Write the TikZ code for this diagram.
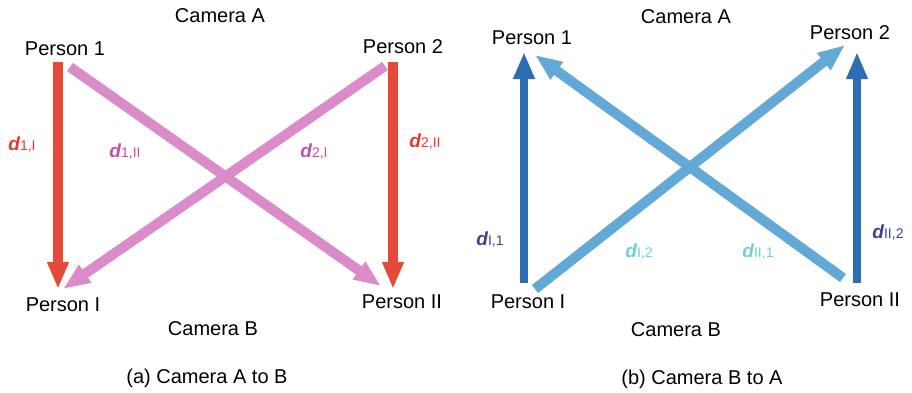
\documentclass[tikz,border=0pt]{standalone}
\usepackage{fontspec}
\setmainfont{Liberation Sans}
\usetikzlibrary{arrows.meta}
\definecolor{redarrow}{HTML}{E5493A}
\definecolor{pinkarrow}{HTML}{DA8BC9}
\definecolor{redlabel}{HTML}{E63A2E}
\definecolor{maglabel}{HTML}{C04FB0}
\definecolor{darkarrow}{HTML}{2E6DB3}
\definecolor{lightarrow}{HTML}{62A9D8}
\definecolor{bluelabel}{HTML}{3D3F9E}
\definecolor{cyanlabel}{HTML}{6ED3D0}
\newcommand\dsub[1]{{\fontsize{19}{19}\selectfont\bfseries\itshape d}{\fontsize{14}{14}\selectfont #1}}
\tikzset{
  txt/.style={inner sep=0pt, font=\fontsize{20}{20}\selectfont},
  lab/.style={inner sep=0pt},
  bigtip/.style={-{Triangle[length=27pt,width=20pt]}},
  redline/.style={draw=redarrow, line width=10pt, bigtip},
  pinkline/.style={draw=pinkarrow, line width=10pt, bigtip},
  darkline/.style={draw=darkarrow, line width=8pt, bigtip},
  lightline/.style={draw=lightarrow, line width=10pt, bigtip}
}
\begin{document}
\begin{tikzpicture}[x=1pt,y=-1pt]
\useasboundingbox[fill=white] (0,0) rectangle (912,392);

% ---- (a) Camera A to B ----
\node[txt] (camA1) at (220,16) {Camera A};
\node[txt] (p1a) at (65,49) {Person 1};
\node[txt] (p2a) at (403,47) {Person 2};
\node[txt] (pIa) at (63,305) {Person I};
\node[txt] (pIIa) at (402,302) {Person II};
\node[txt] (camB1) at (213,329) {Camera B};
\node[txt] (capa) at (207,378) {(a) Camera A to B};

\coordinate (a1s) at (58,62);   \coordinate (a1e) at (58,289);
\coordinate (a2s) at (393,62);  \coordinate (a2e) at (393,289);
\coordinate (a3s) at (70,67);   \coordinate (a3e) at (381,286);
\coordinate (a4s) at (385,66);  \coordinate (a4e) at (63,289);

\draw[pinkline] (a3s) -- (a3e);
\draw[pinkline] (a4s) -- (a4e);
\draw[redline] (a1s) -- (a1e);
\draw[redline] (a2s) -- (a2e);

\node[lab, text=redlabel] (d1I) at (22,145) {\dsub{1,I}};
\node[lab, text=maglabel] (d1II) at (125,152) {\dsub{1,II}};
\node[lab, text=maglabel] (d2I) at (314,152) {\dsub{2,I}};
\node[lab, text=redlabel] (d2II) at (425,142) {\dsub{2,II}};

% ---- (b) Camera B to A ----
\node[txt] (camA2) at (686,17) {Camera A};
\node[txt] (p1b) at (532,38) {Person 1};
\node[txt] (p2b) at (850,33) {Person 2};
\node[txt] (pIb) at (528,302) {Person I};
\node[txt] (pIIb) at (860,300) {Person II};
\node[txt] (camB2) at (676,330) {Camera B};
\node[txt] (capb) at (702,379) {(b) Camera B to A};

\coordinate (b1s) at (524,283); \coordinate (b1e) at (524,52);
\coordinate (b2s) at (857,283); \coordinate (b2e) at (857,52);
\coordinate (b3s) at (535,289); \coordinate (b3e) at (845,45);
\coordinate (b4s) at (843,278); \coordinate (b4e) at (535,55);

\draw[lightline] (b3s) -- (b3e);
\draw[lightline] (b4s) -- (b4e);
\draw[darkline] (b1s) -- (b1e);
\draw[darkline] (b2s) -- (b2e);

\node[lab, text=bluelabel] (dI1) at (490,240) {\dsub{I,1}};
\node[lab, text=cyanlabel] (dI2) at (639,252) {\dsub{I,2}};
\node[lab, text=cyanlabel] (dII1) at (758,252) {\dsub{II,1}};
\node[lab, text=bluelabel] (dII2) at (888,233) {\dsub{II,2}};
\end{tikzpicture}
\end{document}
